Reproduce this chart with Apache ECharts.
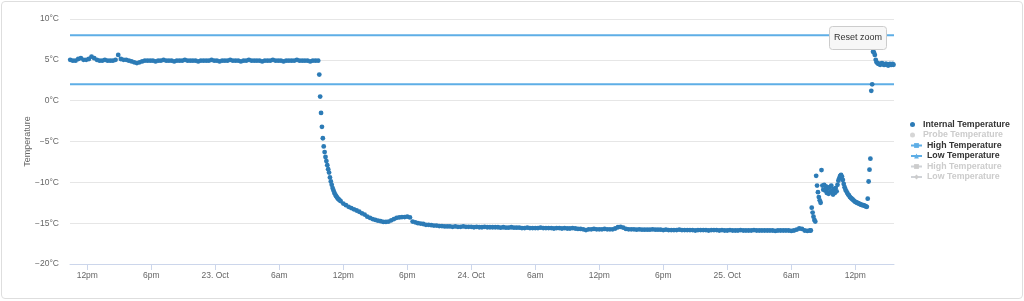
<!DOCTYPE html>
<html><head><meta charset="utf-8">
<script src="https://cdn.jsdelivr.net/npm/echarts@6/dist/echarts.min.js"></script>
<style>
html,body{margin:0;padding:0;background:#fff;}
#c{position:absolute;left:0;top:0;width:1024px;height:301px;}
#frame{position:absolute;left:1px;top:1px;width:1020px;height:296px;border:1px solid #dedede;border-radius:4px;pointer-events:none;}
</style>
</head><body><div id="c"></div><div id="frame"></div>
<script>
// hours since 22 Oct 00:00
const xMin = 10.38, xMax = 87.63;
const tickHours = [12, 18, 24, 30, 36, 42, 48, 54, 60, 66, 72, 78, 84];
const tickLabels = ['12pm', '6pm', '23. Oct', '6am', '12pm', '6pm', '24. Oct', '6am', '12pm', '6pm', '25. Oct', '6am', '12pm'];
const highLimit = 8, lowLimit = 2;

// segment A: 15-min samples from 10:24 on 22 Oct
const segAStart = 10.4, segAStep = 15;
const segAValues = [5.0,4.9,4.9,5.1,5.2,5.0,5.0,5.1,5.4,5.2,5.0,4.9,4.9,5.0,4.9,4.9,4.9,5.0,5.6,5.1,5.0,5.0,4.9,4.8,4.7,4.6,4.7,
 4.8,4.9,4.9,4.9,4.9,4.8,4.9,4.9,5.0,4.9,
 4.9,4.9,4.8,4.9,4.9,4.9,5.0,4.9,4.9,4.9,
 4.9,4.8,4.9,4.9,4.9,4.9,5.0,4.9,4.9,4.8,
 4.9,4.9,4.9,5.0,4.9,4.9,4.9,4.8,4.9,4.9,
 5.0,4.9,4.9,4.9,4.9,4.8,4.9,4.9,4.9,5.0,
 4.9,4.9,4.9,4.8,4.9,4.9,4.9,4.9,5.0,4.9,
 4.9,4.9,4.9,4.8,4.9,4.9,4.9];
// segment B: 5-min samples, the pull-down
const segBStart = 33.75, segBStep = 5;
const segBValues = [3.2,0.5,-1.5,-3.2,-4.6,-5.6,-6.3,-6.9,-7.4,-7.9,-8.4,-8.8,-9.4,-9.9,-10.3,-10.7,-11.0,-11.3,-11.5,-11.7,-11.85,-12.0,-12.1,-12.2,-12.3];
// segment C: 15-min samples
const segCStart = 36.0, segCStep = 15;
const segCValues = [-12.6,-12.8,-13.0,-13.15,-13.3,-13.45,-13.6,-13.8,-13.95,-14.2,-14.35,-14.5,-14.6,-14.7,-14.75,-14.85,-14.85,-14.8,-14.65,-14.5,-14.35,-14.3,-14.25,-14.25,-14.2,-14.3,-14.8,-14.9,-15.0,-15.05,-15.1,-15.2,-15.2,-15.25,-15.3,-15.3,-15.35,-15.35,
 -15.4,-15.4,-15.4,-15.45,-15.4,-15.45,-15.45,-15.4,-15.45,-15.45,
 -15.45,-15.5,-15.45,-15.5,-15.5,-15.45,-15.5,-15.5,-15.5,-15.5,
 -15.5,-15.55,-15.5,-15.55,-15.55,-15.5,-15.55,-15.55,-15.55,-15.6,
 -15.6,-15.55,-15.6,-15.6,-15.6,-15.6,-15.55,-15.6,-15.6,-15.6,
 -15.6,-15.65,-15.6,-15.6,-15.65,-15.6,-15.65,-15.65,-15.6,-15.65,-15.7,-15.7,
 -15.75,-15.85,-15.75,-15.75,-15.7,-15.75,-15.75,-15.75,-15.7,-15.75,-15.75,-15.75,
 -15.65,-15.5,-15.45,-15.55,-15.7,
 -15.75,-15.75,-15.75,-15.8,-15.75,-15.8,-15.8,-15.8,-15.8,-15.75,-15.8,-15.8,-15.8,
 -15.85,-15.8,-15.85,-15.85,-15.85,-15.85,-15.8,-15.85,-15.85,-15.85,
 -15.85,-15.85,-15.9,-15.85,-15.85,-15.85,-15.85,-15.9,-15.85,-15.85,
 -15.85,-15.9,-15.85,-15.9,-15.9,-15.85,-15.9,-15.9,-15.9,-15.85,
 -15.9,-15.9,-15.9,-15.9,-15.85,-15.9,-15.9,-15.9,-15.9,-15.9,
 -15.9,-15.9,-15.95,-15.9,-15.9,-15.9,-15.9,-15.9,-15.95,-15.9,-15.8,
 -15.65,-15.7,-15.9,-15.95,-15.9];
// segment D: 5-min samples, defrost and door events
const segDStart = 79.8333, segDStep = 5;
const segDValues = [-15.9,-13.1,-13.7,-14.2,-14.6,-14.8,-9.2,-10.4,-11.2,-11.8,-12.2,-12.5,-8.5,-10.4,-10.9,-10.3,-11.0,-10.5,-11.3,-10.8,-11.4,-10.6,-11.2,-10.4,-11.0,-11.5,-10.8,-11.3,-10.7,-11.1,-10.3,-9.8,-9.5,-9.2,-9.1,-9.3,-9.7,-10.2,-10.6,-10.9,-11.1,-11.3,-11.5,-11.6,-11.8,-11.9,-12.0,-12.1,-12.2,-12.3,-12.4,-12.45,-12.5,-12.55,-12.6,-12.65,-12.7,-12.75,-12.8,-12.8,-12.85,-12.9,-12.95,-13.0,-12.0,-9.9,-8.45,-7.1,1.2,2.0,6.0,5.9,5.6,5.0,4.7,
 4.6,4.5,4.5,4.4,4.5,4.6,4.5,4.4,4.4,4.5,4.5,4.4,4.3,4.4,4.5,4.4,4.4,4.5,4.4];

function seg(start, stepMin, values) {
  return values.map((v, i) => [start + i * stepMin / 60, v]);
}
const internalData = [].concat(
  seg(segAStart, segAStep, segAValues),
  seg(segBStart, segBStep, segBValues),
  seg(segCStart, segCStep, segCValues),
  seg(segDStart, segDStep, segDValues)
);

const FONT = '"Liberation Sans", Arial, sans-serif';
const dark = '#2c7bb6', light = '#5eaee6';
const chart = echarts.init(document.getElementById('c'), null, {renderer: 'canvas'});
const fmtY = v => (v < 0 ? '\u2212' + (-v) : v) + '°C';
const legendText = {fontFamily: FONT, fontSize: 8.8, fontWeight: 'bold', color: '#333', lineHeight: 10};
chart.setOption({
  animation: false,
  backgroundColor: '#fff',
  grid: {left: 70, right: 130, top: 19, bottom: 37},
  legend: [{
    orient: 'vertical', left: 905, top: 114.5, itemWidth: 11, itemHeight: 5, itemGap: 0.5,
    inactiveColor: '#cccccc', textStyle: legendText,
    data: ['Internal Temperature', 'Probe Temperature'],
    selected: {'Probe Temperature': false}
  }, {
    orient: 'vertical', left: 905, top: 135.5, itemWidth: 11, itemHeight: 6, itemGap: 0.5,
    inactiveColor: '#cccccc', textStyle: legendText,
    data: ['High Temperature', 'Low Temperature', 'High Temperature\u200b', 'Low Temperature\u200b'],
    selected: {'High Temperature\u200b': false, 'Low Temperature\u200b': false}
  }],
  xAxis: {
    type: 'value', min: xMin, max: xMax,
    axisLine: {show: true, onZero: false, lineStyle: {color: '#ccd6eb', width: 1}},
    axisTick: {show: true, customValues: tickHours, length: 6, lineStyle: {color: '#ccd6eb'}},
    axisLabel: {customValues: tickHours, margin: 7, color: '#666', fontFamily: FONT, fontSize: 8.5,
      formatter: v => tickLabels[tickHours.indexOf(Math.round(v))] || ''},
    splitLine: {show: false}
  },
  yAxis: {
    type: 'value', min: -20, max: 10, interval: 5,
    name: 'Temperature', nameLocation: 'middle', nameGap: 38, nameMoveOverlap: false,
    nameTextStyle: {color: '#666', fontFamily: FONT, fontSize: 9},
    axisLine: {show: false}, axisTick: {show: false},
    axisLabel: {margin: 11, color: '#666', fontFamily: FONT, fontSize: 8.5, formatter: fmtY},
    splitLine: {lineStyle: {color: '#e6e6e6', width: 1}}
  },
  series: [
    {name: 'Internal Temperature', type: 'scatter', data: internalData, symbolSize: 4.8,
      itemStyle: {color: dark, opacity: 1}, z: 4},
    {name: 'Probe Temperature', type: 'scatter', data: [], symbolSize: 4, itemStyle: {color: '#999'}},
    {name: 'High Temperature', type: 'line', data: [[xMin, highLimit], [xMax, highLimit]],
      symbol: 'rect', symbolSize: 7, showSymbol: false, color: light, lineStyle: {width: 2, color: light}, z: 3},
    {name: 'Low Temperature', type: 'line', data: [[xMin, lowLimit], [xMax, lowLimit]],
      symbol: 'triangle', symbolSize: 7, showSymbol: false, color: light, lineStyle: {width: 2, color: light}, z: 3},
    {name: 'High Temperature\u200b', type: 'line', data: [], symbol: 'rect', symbolSize: 7, color: '#999'},
    {name: 'Low Temperature\u200b', type: 'line', data: [], symbol: 'diamond', symbolSize: 7, color: '#999'}
  ],
  graphic: [
    {type: 'rect', x: 829.5, y: 26.5, z: 100, shape: {x: 0, y: 0, width: 57, height: 23, r: 3},
      style: {fill: '#f7f7f7', stroke: '#cccccc', lineWidth: 1}},
    {type: 'text', x: 858, y: 38, z: 101,
      style: {text: 'Reset zoom', fill: '#333', fontSize: 9, fontFamily: FONT, align: 'center', verticalAlign: 'middle'}}
  ]
});
</script></body></html>
